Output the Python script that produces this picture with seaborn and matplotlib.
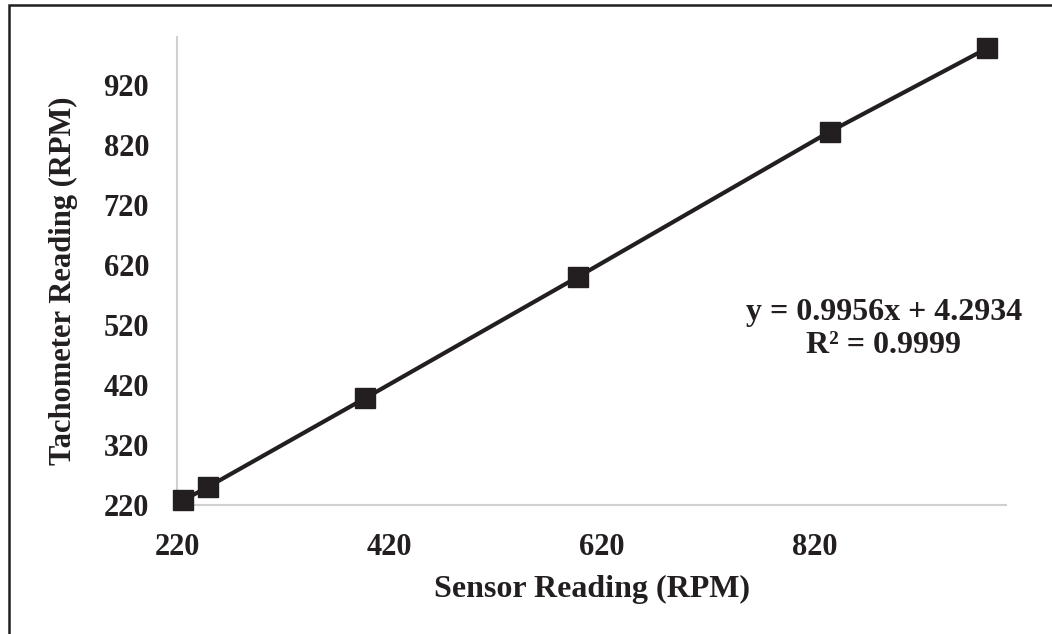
import matplotlib
matplotlib.use("Agg")
import matplotlib.pyplot as plt
import seaborn as sns
import pandas as pd
from matplotlib.patches import Rectangle

sensor_rpm = [226, 249, 397, 597, 834, 982]
tacho_rpm = [228, 250, 398, 600, 842, 981]
tick_values = [220, 320, 420, 520, 620, 720, 820, 920]
x_tick_values = [220, 420, 620, 820]
equation_text = "y = 0.9956x + 4.2934\nR² = 0.9999"
x_label = "Sensor Reading (RPM)"
y_label = "Tachometer Reading (RPM)"

sns.set_theme(style="white")
plt.rcParams['font.family'] = ['Liberation Serif', 'DejaVu Serif']
plt.rcParams['font.weight'] = 'bold'

df = pd.DataFrame({"sensor": sensor_rpm, "tacho": tacho_rpm})

W, H = 1052, 634
fig = plt.figure(figsize=(W / 100, H / 100), dpi=100)
ax = fig.add_axes([177 / W, 1 - 505 / H, (1006 - 177) / W, (505 - 37) / H])

ink = "#231F20"
sns.lineplot(data=df, x="sensor", y="tacho", ax=ax, color=ink, linewidth=3.0,
             marker="s", markersize=14.5, markeredgecolor=ink, markerfacecolor=ink,
             markeredgewidth=1.0, sort=False, clip_on=False, zorder=10)

ax.set_xlim(220, 1000)
ax.set_ylim(220, 1000)
ax.set_xticks(x_tick_values)
ax.set_yticks(tick_values)
ax.tick_params(axis="both", length=0, labelsize=22, colors=ink)
ax.tick_params(axis="x", pad=20)
ax.tick_params(axis="y", pad=20)
for lab in ax.get_xticklabels() + ax.get_yticklabels():
    lab.set_fontweight("bold")

ax.set_xlabel(x_label, fontsize=23, fontweight="bold", color=ink)
ax.set_ylabel(y_label, fontsize=22, fontweight="bold", color=ink)
ax.xaxis.label.set_va("center")
ax.yaxis.label.set_va("center")
ax.xaxis.set_label_coords(0.5, (505 - 589) / 468)
ax.yaxis.set_label_coords((63 - 177) / 829, (505 - 281) / 468)

for side in ["top", "right"]:
    ax.spines[side].set_visible(False)
for side in ["left", "bottom"]:
    ax.spines[side].set_color("#D0D0D0")
    ax.spines[side].set_linewidth(1.5)
    ax.spines[side].set_zorder(1)
ax.grid(False)

fig.text(884 / W, 1 - 329 / H, equation_text, fontsize=23, fontweight="bold",
         color=ink, ha="center", va="center", linespacing=1.15)

fig.patches.append(Rectangle((9 / W, -0.1), 1.2, 1 - 5 / H + 0.1, transform=fig.transFigure,
                             fill=False, edgecolor=ink, linewidth=1.8))

fig.savefig("out.png", dpi=100)
